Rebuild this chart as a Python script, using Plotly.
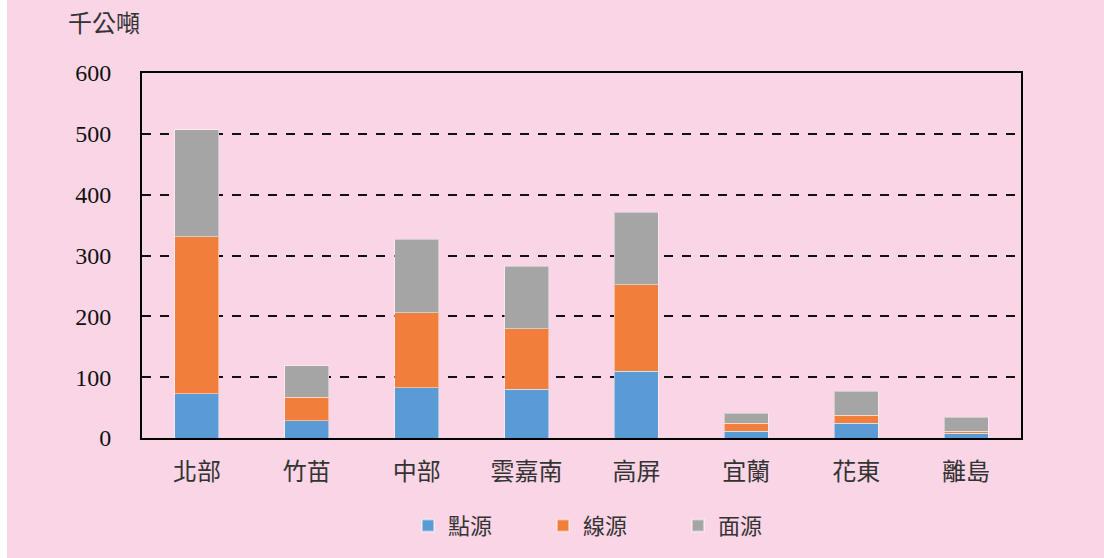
import plotly.graph_objects as go

categories = ["北部", "竹苗", "中部", "雲嘉南", "高屏", "宜蘭", "花東", "離島"]
point_src = [73, 28, 83, 80, 110, 11, 24, 8]
line_src = [258, 39, 123, 100, 142, 13, 13, 3]
area_src = [176, 52, 121, 102, 119, 17, 40, 23]
series_names = ["點源", "線源", "面源"]
colors = ["#5B9BD5", "#F27E3C", "#A5A5A5"]
y_ticks = [0, 100, 200, 300, 400, 500, 600]

FONT = "Liberation Serif, Noto Sans CJK TC, serif"

fig = go.Figure()
for name, vals, col in zip(series_names, [point_src, line_src, area_src], colors):
    fig.add_trace(go.Bar(
        x=categories, y=vals, name=name,
        marker=dict(color=col, line=dict(color="rgba(255,255,255,0.45)", width=1)),
    ))

fig.update_layout(
    barmode="stack",
    bargap=0.6,
    width=1097, height=558,
    margin=dict(l=135, r=83, t=73, b=118),
    paper_bgcolor="#FAD5E6",
    plot_bgcolor="#FAD5E6",
    font=dict(family=FONT, size=22, color="#222222"),
    showlegend=True,
    legend=dict(
        orientation="h", x=0.533, xanchor="center", y=-0.24, yanchor="middle",
        traceorder="normal",
        font=dict(size=22, family="Noto Sans CJK TC, sans-serif", color="#333333"),
        bgcolor="rgba(0,0,0,0)",
        entrywidth=90, entrywidthmode="pixels",
        itemsizing="constant",
    ),
    annotations=[dict(
        text="千公噸", xref="paper", yref="paper", x=-0.043, y=1.142,
        xanchor="center", yanchor="middle", showarrow=False,
        font=dict(size=24, family="Noto Sans CJK TC, sans-serif", color="#333333"),
    )],
)

fig.update_yaxes(
    range=[0, 600], tickvals=y_ticks, ticktext=[str(v) for v in y_ticks],
    showgrid=True, gridcolor="#111111", gridwidth=1.5, griddash="dash",
    showline=True, linecolor="black", linewidth=2, mirror=True,
    ticks="", ticklabelstandoff=24, zeroline=False,
    tickfont=dict(family="Liberation Serif, serif", size=24, color="#111111"),
)
fig.update_xaxes(
    showline=True, linecolor="black", linewidth=2, mirror=True,
    ticks="", ticklabelstandoff=11,
    tickfont=dict(family="Noto Sans CJK TC, sans-serif", size=24, color="#333333"),
)

fig.write_html(
    "out.html",
    post_script="document.body.style.margin='0 0 0 7px';document.body.style.overflow='hidden';",
)
